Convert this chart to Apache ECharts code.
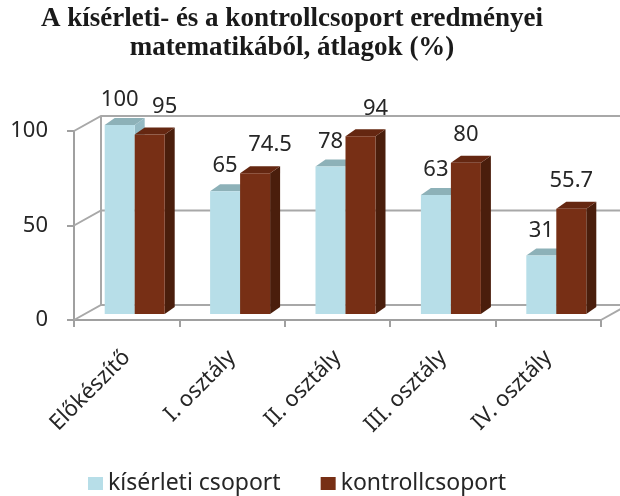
<!DOCTYPE html>
<html>
<head>
<meta charset="utf-8">
<script src="https://cdn.jsdelivr.net/npm/echarts@6/dist/echarts.min.js"></script>
<style>
  html, body { margin: 0; padding: 0; background: #fff; }
  #chart { width: 620px; height: 496px; }
</style>
</head>
<body>
<div id="chart"></div>
<script>
// osztályok
var categories = ['Előkészítő', 'I. osztály', 'II. osztály', 'III. osztály', 'IV. osztály'];
// átlagok (%)
var kiserleti = [100, 65, 78, 63, 31];
var kontroll = [95, 74.5, 94, 80, 55.7];
// y tengely osztásai
var yTicks = [0, 50, 100];

var FONT = '"Noto Sans", sans-serif';
// hátsó fal eltolása (3D hatás)
var WALL_DX = 27, WALL_DY = -15;
// oszlopok helye a mélységben
var BAR_SX = 0, BAR_SY = -6;
var BAR_W = 30, BAR_DX = 10, BAR_DY = -7;

var colors = {
  blue: { front: '#B7DEE8', top: '#8DB1B8', side: '#94BAC4' },
  brown: { front: '#772F15', top: '#652711', side: '#4A1E0C' }
};

function wallItem(params, api) {
  var cs = params.coordSys;
  var x0 = cs.x, x1 = cs.x + cs.width;
  var v = api.value(0);
  var y = api.coord([0, v])[1];
  var style = { stroke: '#A8A8A8', lineWidth: 2, fill: null };
  var children = [{
    type: 'polyline',
    shape: { points: [[x0, y], [x0 + WALL_DX, y + WALL_DY], [x1 + WALL_DX, y + WALL_DY]] },
    style: style
  }];
  if (v === 0) {
    var yTop = api.coord([0, yTicks[yTicks.length - 1]])[1];
    children.push({
      type: 'line',
      shape: { x1: x0 + WALL_DX, y1: y + WALL_DY, x2: x0 + WALL_DX, y2: yTop + WALL_DY },
      style: style
    });
    children.push({
      type: 'line',
      shape: { x1: x1, y1: y, x2: x1 + WALL_DX, y2: y + WALL_DY },
      style: style
    });
  }
  return { type: 'group', children: children };
}

function barRenderer(offset, pal, isRight) {
  return function (params, api) {
    var idx = api.value(0);
    var val = api.value(1);
    var top = api.coord([idx, val]);
    var base = api.coord([idx, 0]);
    var xl = top[0] + offset + BAR_SX;
    var xr = xl + BAR_W;
    var yt = top[1] + BAR_SY;
    var yb = base[1] + BAR_SY;
    var lx = xl + BAR_W / 2;
    var ly = yt - 25;
    if (isRight) {
      // ha a két érték közel van, a címke jobbra csúszik
      var other = kiserleti[idx];
      if (val - other < 16.5) lx += 15;
      ly = yt - 28;
    }
    return {
      type: 'group',
      children: [
        { type: 'polygon', shape: { points: [[xr, yt], [xr + BAR_DX, yt + BAR_DY], [xr + BAR_DX, yb + BAR_DY], [xr, yb]] },
          style: { fill: pal.side } },
        { type: 'polygon', shape: { points: [[xl, yt], [xr, yt], [xr + BAR_DX, yt + BAR_DY], [xl + BAR_DX, yt + BAR_DY]] },
          style: { fill: pal.top } },
        { type: 'rect', shape: { x: xl, y: yt, width: BAR_W, height: yb - yt },
          style: { fill: pal.front } },
        { type: 'text', x: lx, y: ly,
          style: { text: String(val), fill: '#262626', font: '22px ' + FONT, align: 'center', verticalAlign: 'middle' } }
      ]
    };
  };
}

var chart = echarts.init(document.getElementById('chart'));
chart.setOption({
  animation: false,
  backgroundColor: '#fff',
  title: {
    text: 'A kísérleti- és a kontrollcsoport eredményei\nmatematikából, átlagok (%)',
    left: 287,
    top: 0,
    textAlign: 'center',
    textStyle: { fontFamily: '"Liberation Serif", serif', fontWeight: 'bold', fontSize: 27, lineHeight: 29, color: '#1a1a1a' }
  },
  legend: {
    left: 83,
    top: 467,
    itemWidth: 15,
    itemHeight: 13,
    itemGap: 40,
    icon: 'rect',
    textStyle: { fontFamily: FONT, fontSize: 23, color: '#262626' },
    data: ['kísérleti csoport', 'kontrollcsoport']
  },
  grid: { left: 74, right: 19, top: 131, bottom: 176 },
  xAxis: {
    type: 'category',
    data: categories,
    boundaryGap: true,
    axisLine: { lineStyle: { color: '#A0A0A0', width: 2 } },
    axisTick: { show: true, length: 7, lineStyle: { color: '#A0A0A0', width: 2 } },
    axisLabel: { interval: 0, rotate: 45, margin: 34, fontFamily: FONT, fontSize: 22, color: '#262626' }
  },
  yAxis: {
    type: 'value',
    min: 0,
    max: 100,
    interval: 50,
    axisLine: { show: true, lineStyle: { color: '#A0A0A0', width: 2 } },
    axisTick: { show: true, length: 7, lineStyle: { color: '#A0A0A0', width: 2 } },
    axisLabel: { margin: 26, fontFamily: FONT, fontSize: 22, color: '#262626' },
    splitLine: { show: false }
  },
  series: [
    {
      type: 'custom',
      name: 'wall',
      silent: true,
      z: 1,
      renderItem: wallItem,
      data: yTicks.map(function (v) { return [v]; })
    },
    {
      type: 'custom',
      name: 'kísérleti csoport',
      z: 3,
      itemStyle: { color: colors.blue.front },
      renderItem: barRenderer(-22, colors.blue, false),
      data: kiserleti.map(function (v, i) { return [i, v]; })
    },
    {
      type: 'custom',
      name: 'kontrollcsoport',
      z: 4,
      itemStyle: { color: colors.brown.front },
      renderItem: barRenderer(8, colors.brown, true),
      data: kontroll.map(function (v, i) { return [i, v]; })
    }
  ]
});
</script>
</body>
</html>
